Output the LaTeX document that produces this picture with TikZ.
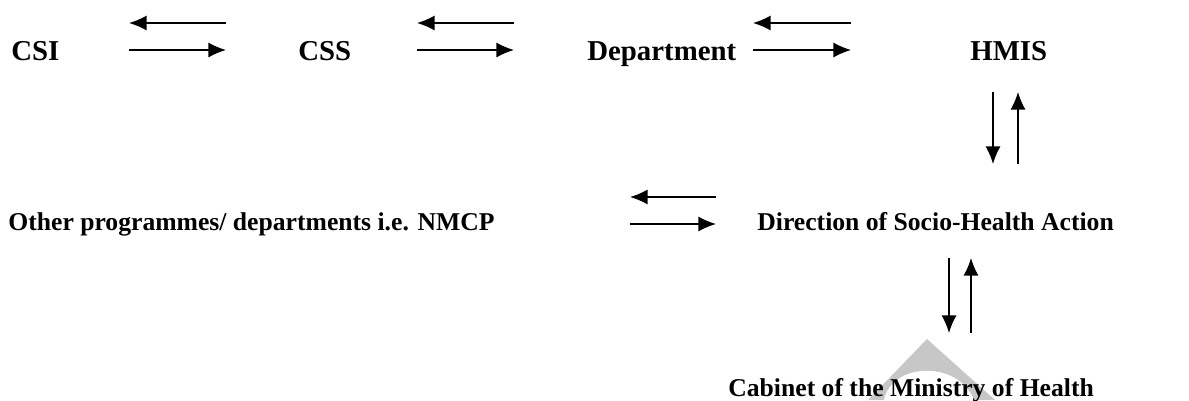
\documentclass[tikz,border=0pt]{standalone}
\usepackage{fontspec}
\setmainfont{Liberation Serif}
\usetikzlibrary{arrows.meta, positioning}

\begin{document}
\begin{tikzpicture}[
            x=0.02cm, y=-0.02cm,
            unit/.style={inner sep=0pt, anchor=base west, font=\fontsize{14.6}{17}\selectfont\bfseries},
            big/.style={font=\fontsize{16.4}{19}\selectfont\bfseries},
            flow/.style={-{Latex[length=10pt, width=8.5pt]}, line width=0.75pt, black}
        ]
\useasboundingbox (0,0) rectangle (1189,400);

% Watermark
            \fill[black!22] (927,339) -- (868,400) -- (995,400) -- cycle;
            \fill[white] (884,400) .. controls (892,362) and (958,360) .. (974,400) -- cycle;

% Units
            \node[unit, big] (csi) at (11,60) {CSI};
            \node[unit, big] (css) at (298,60) {CSS};
            \node[unit, big] (dept) at (587,60) {Department};
            \node[unit, big] (hmis) at (970,60) {HMIS};
            \node[unit] (other) at (8,230) {Other programmes/ departments i.e. NMCP};
            \node[unit] (dsha) at (757,230) {Direction of Socio-Health Action};
            \node[unit] (cabinet) at (728,396) {Cabinet of the Ministry of Health};

% Arrow pairs
            \coordinate (csi-css-w) at (129,36.5);
            \coordinate (csi-css-e) at (226,36.5);
            \coordinate (css-dept-w) at (417,36.5);
            \coordinate (css-dept-e) at (514,36.5);
            \coordinate (dept-hmis-w) at (753,36.5);
            \coordinate (dept-hmis-e) at (851,36.5);
            \coordinate (other-dsha-w) at (630,210.5);
            \coordinate (other-dsha-e) at (716,210.5);
            \coordinate (hmis-dsha-n) at (1005.5,92);
            \coordinate (hmis-dsha-s) at (1005.5,164);
            \coordinate (dsha-cab-n) at (960,258);
            \coordinate (dsha-cab-s) at (960,333);

% Horizontal flows
            \draw[flow] ([yshift=.27cm]csi-css-e) -- ([yshift=.27cm]csi-css-w);
            \draw[flow] ([yshift=-.27cm]csi-css-w) -- ([yshift=-.27cm]csi-css-e);
            \draw[flow] ([yshift=.27cm]css-dept-e) -- ([yshift=.27cm]css-dept-w);
            \draw[flow] ([yshift=-.27cm]css-dept-w) -- ([yshift=-.27cm]css-dept-e);
            \draw[flow] ([yshift=.27cm]dept-hmis-e) -- ([yshift=.27cm]dept-hmis-w);
            \draw[flow] ([yshift=-.27cm]dept-hmis-w) -- ([yshift=-.27cm]dept-hmis-e);
            \draw[flow] ([yshift=.27cm]other-dsha-e) -- ([yshift=.27cm]other-dsha-w);
            \draw[flow] ([yshift=-.27cm]other-dsha-w) -- ([yshift=-.27cm]other-dsha-e);

% Vertical flows
            \draw[flow] ([xshift=-.25cm]hmis-dsha-n) -- ([xshift=-.25cm]hmis-dsha-s);
            \draw[flow] ([xshift=.25cm]hmis-dsha-s) -- ([xshift=.25cm]hmis-dsha-n);
            \draw[flow] ([xshift=-.22cm]dsha-cab-n) -- ([xshift=-.22cm]dsha-cab-s);
            \draw[flow] ([xshift=.22cm]dsha-cab-s) -- ([xshift=.22cm]dsha-cab-n);

        \end{tikzpicture}
\end{document}
